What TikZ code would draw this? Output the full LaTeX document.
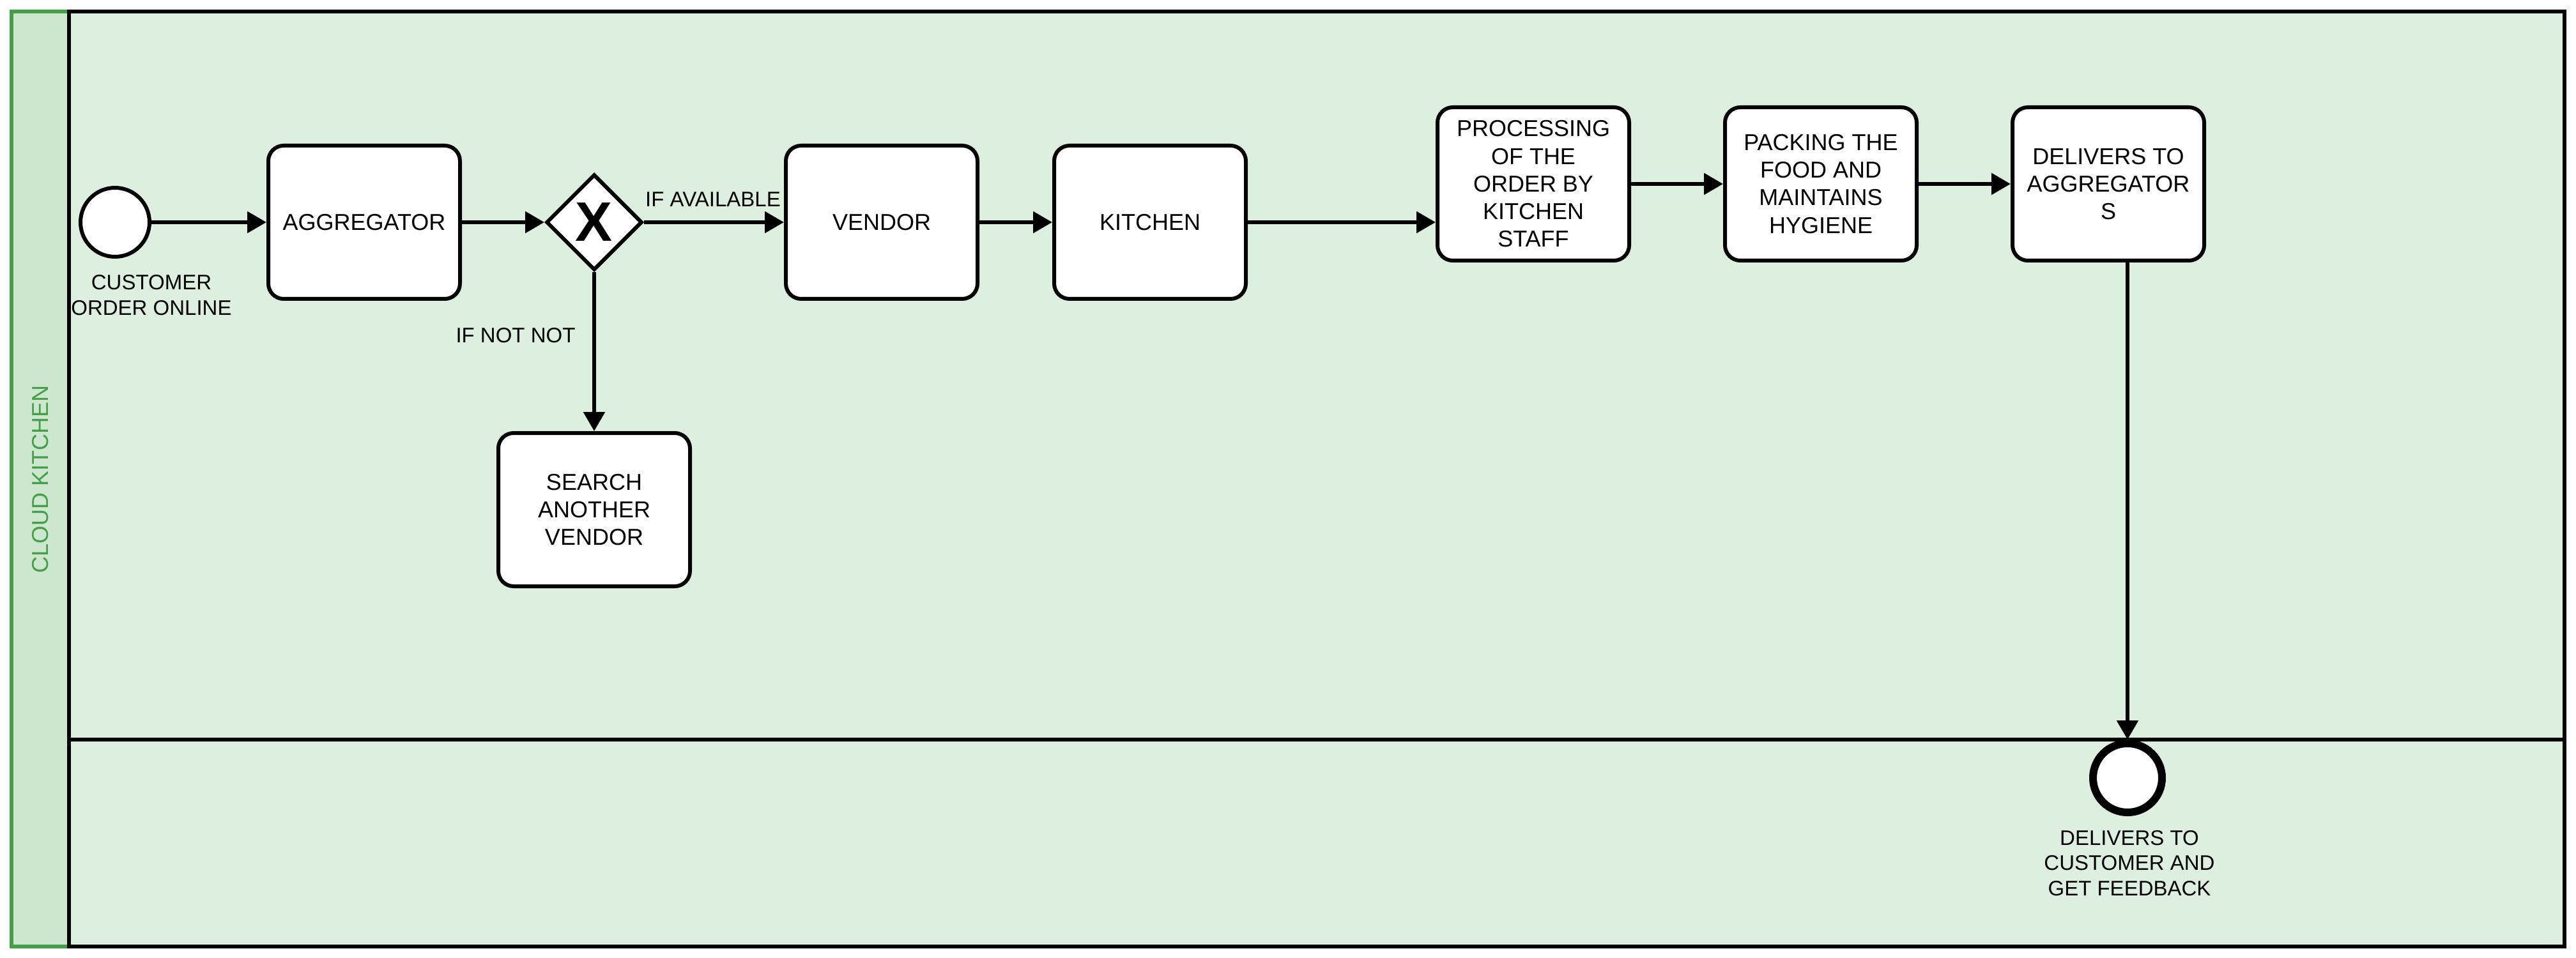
\documentclass[tikz,border=0pt]{standalone}
\usepackage{fontspec}
\setmainfont{Liberation Sans}
\usepackage{tikz}
\usetikzlibrary{arrows.meta,shapes.geometric}
\definecolor{lane green}{rgb}{0.867, 0.937, 0.871}
\definecolor{header green}{rgb}{0.800, 0.906, 0.804}
\definecolor{pool green}{rgb}{0.263, 0.627, 0.278}

\tikzset{
	task/.style = {draw, line width=2pt, rounded corners=8pt, fill=white,
		minimum width=100pt, minimum height=80pt, inner sep=0pt, align=center,
		font=\fontsize{12}{14.4}\selectfont},
	startev/.style = {draw, circle, line width=2pt, fill=white, minimum size=36pt, inner sep=0pt},
	endev/.style = {startev, line width=4pt},
	gateway/.style = {draw, diamond, line width=2pt, fill=white, minimum width=50pt,
		minimum height=50pt, inner sep=0pt, font=\fontsize{29}{29}\selectfont\bfseries},
	flow/.style = {line width=2pt, -{Triangle[length=10pt,width=11pt]}},
	lbl/.style = {inner sep=0pt, align=center, font=\fontsize{11}{13.2}\selectfont}
}

\begin{document}
\begin{tikzpicture}[x=1pt, y=-1pt]
			\useasboundingbox (0,0) rectangle (1344,500);
			% pool header
			\draw[pool green, line width=2pt, fill=header green] (6,6) rectangle (36,494);
			\node[rotate=90, text=pool green, font=\fontsize{12}{14.4}\selectfont] (poolname) at (21,250) {CLOUD KITCHEN};
			% lanes
			\draw[line width=2pt, fill=lane green] (36,6) rectangle (1338,386);
			\draw[line width=2pt, fill=lane green] (36,386) rectangle (1338,494);
			% events, tasks and gateway
			\node[startev] (order) at (60,116) {};
			\node[task] (aggr) at (190,116) {AGGREGATOR};
			\node[gateway] (gw) at (310,116) {X};
			\node[task] (vendor) at (460,116) {VENDOR};
			\node[task] (kitchen) at (600,116) {KITCHEN};
			\node[task] (process) at (800,96) {PROCESSING\\OF THE\\ORDER BY\\KITCHEN\\STAFF};
			\node[task] (packing) at (950,96) {PACKING THE\\FOOD AND\\MAINTAINS\\HYGIENE};
			\node[task] (delivers) at (1100,96) {DELIVERS TO\\AGGREGATOR\\S};
			\node[task] (search) at (310,266) {SEARCH\\ANOTHER\\VENDOR};
			\node[endev] (finish) at (1110,406) {};
			% labels
			\node[lbl] (orderlbl) at (79,154) {CUSTOMER\\ORDER ONLINE};
			\node[lbl] (finishlbl) at (1111,450.5) {DELIVERS TO\\CUSTOMER AND\\GET FEEDBACK};
			\node[lbl] (yeslbl) at (372,104) {IF AVAILABLE};
			\node[lbl] (nolbl) at (269,175) {IF NOT NOT};
			% flows
			\draw[flow] (order) -- (aggr);
			\draw[flow] (aggr) -- (gw);
			\draw[flow] (gw) -- (vendor);
			\draw[flow] (gw) -- (search);
			\draw[flow] (vendor) -- (kitchen);
			\draw[flow] (kitchen) -- (kitchen -| process.west);
			\draw[flow] (process) -- (packing);
			\draw[flow] (packing) -- (delivers);
			\draw[flow] (finish |- delivers.south) -- (finish);
		\end{tikzpicture}
\end{document}
